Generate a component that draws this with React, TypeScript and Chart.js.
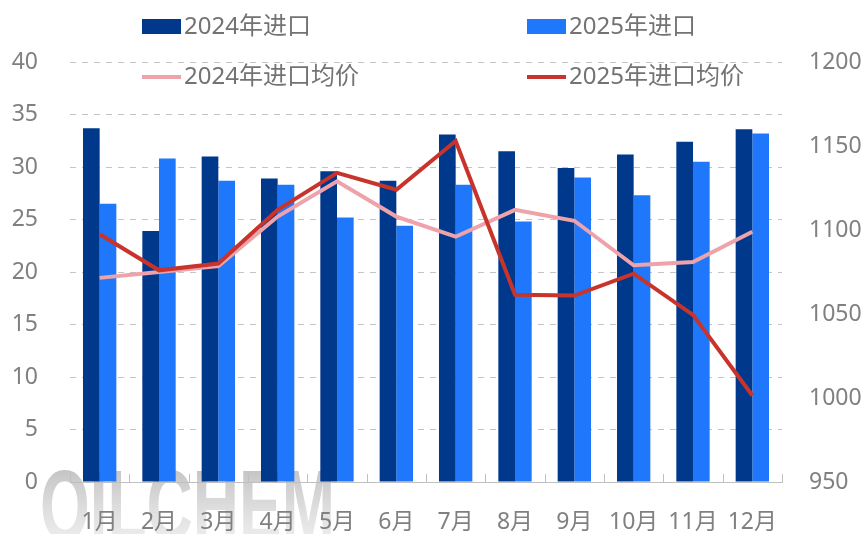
import React, { useEffect, useRef } from "react";
import { Chart, registerables } from "chart.js";

Chart.register(...registerables);

const months = ["1月", "2月", "3月", "4月", "5月", "6月", "7月", "8月", "9月", "10月", "11月", "12月"];
const import2024 = [33.7, 23.9, 31.0, 28.9, 29.6, 28.7, 33.1, 31.5, 29.9, 31.2, 32.4, 33.6];
const import2025 = [26.5, 30.8, 28.7, 28.3, 25.2, 24.4, 28.3, 24.8, 29.0, 27.3, 30.5, 33.2];
const price2024 = [1071.5, 1075, 1078.5, 1108, 1129, 1108, 1096, 1112, 1105.5, 1079, 1081, 1099];
const price2025 = [1097.5, 1076, 1080, 1112, 1134, 1124, 1153, 1061.5, 1061, 1074, 1049.5, 1001.5];
const leftTicks = { min: 0, max: 40, step: 5 };
const rightTicks = { min: 950, max: 1200, step: 50 };
const legendLabels = ["2024年进口", "2025年进口", "2024年进口均价", "2025年进口均价"];

const C_DARK = "#00388c";
const C_LIGHT = "#1f78fb";
const C_PINK = "#eea2aa";
const C_RED = "#c8342b";
const TICK_COLOR = "#808080";
const FONT = "'Noto Sans', 'Noto Sans CJK SC', sans-serif";

const watermarkPlugin = {
  id: "watermark",
  beforeDraw(chart: any) {
    const ctx = chart.ctx;
    ctx.save();
    ctx.font = "bold 100px 'Liberation Sans', sans-serif";
    const w = ctx.measureText("OILCHEM").width;
    ctx.translate(40, 540);
    ctx.scale(295 / w, 1);
    const g = ctx.createLinearGradient(0, -75, 0, 0);
    g.addColorStop(0, "rgba(160,160,160,0.65)");
    g.addColorStop(1, "rgba(215,215,215,0.45)");
    ctx.fillStyle = g;
    ctx.textBaseline = "alphabetic";
    ctx.fillText("OILCHEM", 0, 0);
    ctx.restore();
  },
};

const legendPlugin = {
  id: "customLegend",
  afterDraw(chart: any) {
    const ctx = chart.ctx;
    const cols = [142, 527];
    const rows = [27, 77];
    const ds = chart.data.datasets;
    ctx.save();
    ctx.font = `24px ${FONT}`;
    ctx.textBaseline = "middle";
    ctx.textAlign = "left";
    legendLabels.forEach((label, i) => {
      const x = cols[i % 2];
      const y = rows[Math.floor(i / 2)];
      const d = ds[i];
      if (d.type === "line") {
        ctx.fillStyle = d.borderColor;
        ctx.fillRect(x, y - 2, 39, 4);
      } else {
        ctx.fillStyle = d.backgroundColor;
        ctx.fillRect(x, y - 8, 39, 15);
      }
      ctx.fillStyle = "#737373";
      ctx.fillText(label, x + 42, y);
    });
    ctx.restore();
  },
};

const xTickPlugin = {
  id: "xInnerTicks",
  afterDatasetsDraw(chart: any) {
    const ctx = chart.ctx;
    const area = chart.chartArea;
    const n = months.length;
    const cw = (area.right - area.left) / n;
    ctx.save();
    ctx.strokeStyle = "#bfbfbf";
    ctx.lineWidth = 1;
    for (let i = 0; i <= n; i++) {
      const x = Math.round(area.left + i * cw) + 0.5;
      ctx.beginPath();
      ctx.moveTo(x, area.bottom);
      ctx.lineTo(x, area.bottom - 8);
      ctx.stroke();
    }
    ctx.restore();
  },
};

export default function App() {
  const ref = useRef<HTMLCanvasElement | null>(null);
  useEffect(() => {
    if (!ref.current) return;
    const chart = new Chart(ref.current, {
      data: {
        labels: months,
        datasets: [
          {
            type: "bar",
            label: legendLabels[0],
            data: import2024,
            backgroundColor: C_DARK,
            yAxisID: "y",
            order: 2,
            categoryPercentage: 0.562,
            barPercentage: 1,
          },
          {
            type: "bar",
            label: legendLabels[1],
            data: import2025,
            backgroundColor: C_LIGHT,
            yAxisID: "y",
            order: 2,
            categoryPercentage: 0.562,
            barPercentage: 1,
          },
          {
            type: "line",
            label: legendLabels[2],
            data: price2024,
            borderColor: C_PINK,
            backgroundColor: C_PINK,
            borderWidth: 4,
            pointRadius: 0,
            tension: 0,
            yAxisID: "y1",
            order: 1,
          },
          {
            type: "line",
            label: legendLabels[3],
            data: price2025,
            borderColor: C_RED,
            backgroundColor: C_RED,
            borderWidth: 4,
            pointRadius: 0,
            tension: 0,
            yAxisID: "y1",
            order: 0,
          },
        ],
      } as any,
      options: {
        animation: false,
        responsive: true,
        maintainAspectRatio: false,
        layout: { padding: { top: 62, left: 0, right: 0, bottom: 0 } },
        plugins: { legend: { display: false }, tooltip: { enabled: false } },
        scales: {
          x: {
            offset: true,
            grid: { display: false },
            border: { display: true, color: "#bfbfbf", width: 1 },
            ticks: { color: TICK_COLOR, font: { size: 23, family: FONT }, padding: 19, maxRotation: 0 },
            afterFit(s: any) {
              s.height = 52;
            },
          },
          y: {
            position: "left",
            min: leftTicks.min,
            max: leftTicks.max,
            grid: { color: "#c4c4c4", lineWidth: 1, drawTicks: false },
            border: { display: false, dash: [6, 6] },
            ticks: { stepSize: leftTicks.step, color: TICK_COLOR, font: { size: 23, family: FONT }, padding: 32 },
            afterFit(s: any) {
              s.width = 70;
            },
          },
          y1: {
            position: "right",
            min: rightTicks.min,
            max: rightTicks.max,
            grid: { drawOnChartArea: false, drawTicks: false },
            border: { display: false },
            ticks: {
              stepSize: rightTicks.step,
              color: TICK_COLOR,
              font: { size: 23, family: FONT },
              padding: 27,
              callback: (v: any) => String(v),
            },
            afterFit(s: any) {
              s.width = 84;
            },
          },
        },
      } as any,
      plugins: [watermarkPlugin, xTickPlugin, legendPlugin],
    });
    return () => chart.destroy();
  }, []);
  return (
    <div style={{ position: "fixed", left: 0, top: 0, width: 866, height: 534, background: "#fff" }}>
      <canvas ref={ref} />
    </div>
  );
}
